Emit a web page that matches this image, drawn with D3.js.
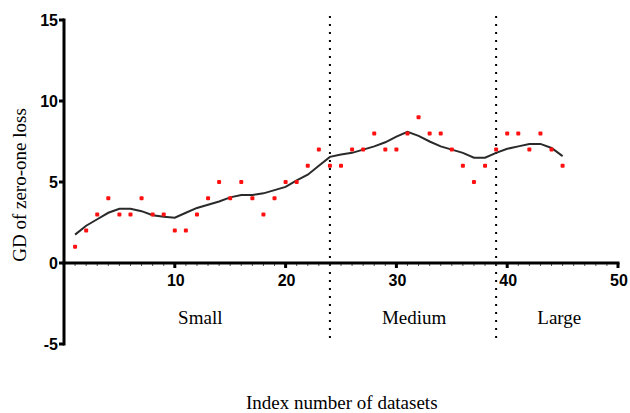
<!DOCTYPE html>
<html>
<head>
<meta charset="utf-8">
<script src="https://cdn.jsdelivr.net/npm/d3@7"></script>
<style>
  body { margin: 0; background: #fff; }
  svg { display: block; }
  .tick-lbl { font-family: Arial, "Liberation Sans", sans-serif; font-weight: bold; font-size: 16px; fill: #000; }
  .serif { font-family: "Times New Roman", "Liberation Serif", serif; font-size: 19px; fill: #000; }
</style>
</head>
<body>
<svg id="chart" width="630" height="413"></svg>
<script>
// 点(データセットごとの値)
const index = d3.range(1, 46);
const gdValues = [1, 2, 3, 4, 3, 3, 4, 3, 3, 2, 2, 3, 4, 5, 4, 5, 4, 3, 4, 5,
  5, 6, 7, 6, 6, 7, 7, 8, 7, 7, 8, 9, 8, 8, 7, 6, 5, 6, 7, 8,
  8, 7, 8, 7, 6];
// 平滑化曲線
const smoothValues = [1.75, 2.3, 2.7, 3.1, 3.35, 3.35, 3.2, 2.95, 2.85, 2.8,
  3.1, 3.4, 3.6, 3.8, 4.05, 4.2, 4.2, 4.3, 4.5, 4.7,
  5.1, 5.45, 6.0, 6.55, 6.7, 6.8, 7.0, 7.2, 7.45, 7.8,
  8.1, 7.85, 7.5, 7.2, 7.0, 6.8, 6.5, 6.5, 6.8, 7.05,
  7.2, 7.35, 7.35, 7.1, 6.6];
const dividers = [24, 39];
const groups = [{ label: "Small", x: 12.3 }, { label: "Medium", x: 31.6 }, { label: "Large", x: 44.7 }];
const xTicks = [10, 20, 30, 40, 50];
const yTicks = [-5, 0, 5, 10, 15];

const svg = d3.select("#chart");
const x = d3.scaleLinear().domain([0, 50]).range([64, 618]);
const y = d3.scaleLinear().domain([-5, 15]).range([344, 20]);

// ---------- 区切りの点線 ----------
svg.append("g")
  .selectAll("line")
  .data(dividers)
  .join("line")
  .attr("x1", (d) => x(d)).attr("x2", (d) => x(d))
  .attr("y1", y(15) - 4).attr("y2", y(-5))
  .attr("stroke", "#000")
  .attr("stroke-width", 2)
  .attr("stroke-dasharray", "2,6");

// ---------- 軸 ----------
const xAxis = svg.append("g").attr("transform", `translate(0,${y(0)})`);
xAxis.append("g")
  .selectAll("line")
  .data(d3.range(1, 50))
  .join("line")
  .attr("x1", (d) => x(d)).attr("x2", (d) => x(d))
  .attr("y1", 0).attr("y2", 3)
  .attr("stroke", "#555").attr("stroke-width", 1);
xAxis.append("line")
  .attr("x1", x(0) - 1.5).attr("x2", x(50) + 1.5)
  .attr("stroke", "#000").attr("stroke-width", 3);
xAxis.append("g")
  .selectAll("line")
  .data(xTicks)
  .join("line")
  .attr("x1", (d) => x(d)).attr("x2", (d) => x(d))
  .attr("y1", 0).attr("y2", 5)
  .attr("stroke", "#000").attr("stroke-width", 3);
xAxis.append("g")
  .selectAll("text")
  .data(xTicks)
  .join("text")
  .attr("class", "tick-lbl")
  .attr("x", (d) => x(d) + 1)
  .attr("y", 23)
  .attr("text-anchor", "middle")
  .text((d) => d);

const yAxis = svg.append("g").attr("transform", `translate(${x(0)},0)`);
yAxis.append("line")
  .attr("y1", y(15) - 1.5).attr("y2", y(-5) + 1.5)
  .attr("stroke", "#000").attr("stroke-width", 3);
yAxis.append("g")
  .selectAll("line")
  .data(yTicks)
  .join("line")
  .attr("x1", -5).attr("x2", 0)
  .attr("y1", (d) => y(d)).attr("y2", (d) => y(d))
  .attr("stroke", "#000").attr("stroke-width", 3);
yAxis.append("g")
  .selectAll("text")
  .data(yTicks)
  .join("text")
  .attr("class", "tick-lbl")
  .attr("x", -6)
  .attr("y", (d) => y(d) + 6)
  .attr("text-anchor", "end")
  .text((d) => d);

// ---------- 曲線と点 ----------
const line = d3.line()
  .x((d, i) => x(index[i]))
  .y((d) => y(d));
svg.append("path")
  .datum(smoothValues)
  .attr("d", line)
  .attr("fill", "none")
  .attr("stroke", "#2a2a2a")
  .attr("stroke-width", 2);

svg.append("g")
  .selectAll("rect")
  .data(gdValues)
  .join("rect")
  .attr("x", (d, i) => x(index[i]) - 2)
  .attr("y", (d) => y(d) - 2)
  .attr("width", 4)
  .attr("height", 4)
  .attr("rx", 1)
  .attr("fill", "#ff1010");

// ---------- ラベル ----------
svg.append("g")
  .selectAll("text")
  .data(groups)
  .join("text")
  .attr("class", "serif")
  .attr("x", (d) => x(d.x))
  .attr("y", 324)
  .attr("text-anchor", "middle")
  .text((d) => d.label);

svg.append("text")
  .attr("class", "serif")
  .attr("x", 246)
  .attr("y", 409)
  .text("Index number of datasets");

svg.append("text")
  .attr("class", "serif")
  .attr("transform", "translate(26,185) rotate(-90)")
  .attr("text-anchor", "middle")
  .text("GD of zero-one loss");
</script>
</body>
</html>
